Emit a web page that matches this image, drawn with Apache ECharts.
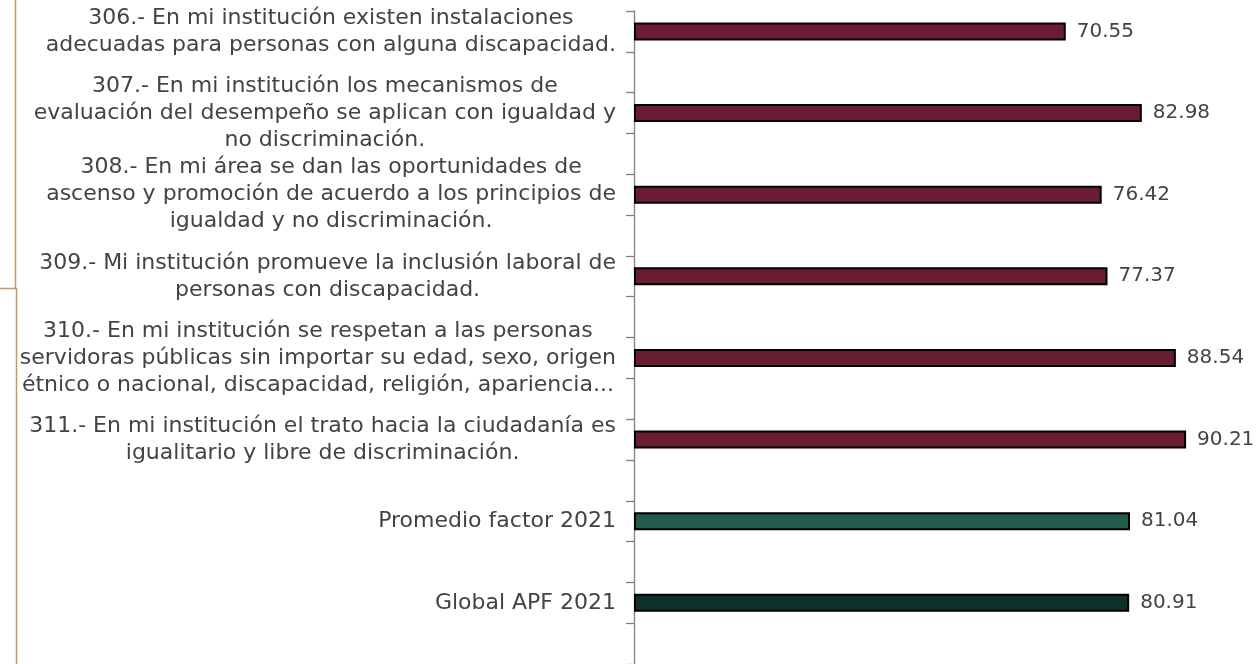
<!DOCTYPE html>
<html>
<head>
<meta charset="utf-8">
<script src="https://cdn.jsdelivr.net/npm/echarts@6/dist/echarts.min.js"></script>
<style>
html,body{margin:0;padding:0;background:#fff;}
#chart{width:1259px;height:664px;}
</style>
</head>
<body>
<div id="chart"></div>
<script>
const categories = [
  "306.- En mi institución existen instalaciones\nadecuadas para personas con alguna discapacidad.",
  "307.- En mi institución los mecanismos de\nevaluación del desempeño se aplican con igualdad y\nno discriminación.",
  "308.- En mi área se dan las oportunidades de\nascenso y promoción de acuerdo a los principios de\nigualdad y no discriminación.",
  "309.- Mi institución promueve la inclusión laboral de\npersonas con discapacidad.",
  "310.- En mi institución se respetan a las personas\nservidoras públicas sin importar su edad, sexo, origen\nétnico o nacional, discapacidad, religión, apariencia...",
  "311.- En mi institución el trato hacia la ciudadanía es\nigualitario y libre de discriminación.",
  "Promedio factor 2021",
  "Global APF 2021"
];
const values = [70.55, 82.98, 76.42, 77.37, 88.54, 90.21, 81.04, 80.91];

const barColors = ['#691C32','#691C32','#691C32','#691C32','#691C32','#691C32','#235B4E','#10312B'];
const FONT = 'DejaVu Sans';

// each category is followed by an empty slot (as in the original chart)
const slotLabels = [];
const slotData = [];
categories.forEach((c, i) => {
  slotLabels.push(c);
  slotData.push({ value: values[i], itemStyle: { color: barColors[i] } });
  slotLabels.push('');
  slotData.push(null);
});

const chart = echarts.init(document.getElementById('chart'), null, { renderer: 'canvas' });
chart.setOption({
  animation: false,
  backgroundColor: '#ffffff',
  grid: { left: 634, right: 13, top: 11, bottom: 0, containLabel: false },
  xAxis: { type: 'value', min: 0, max: 100, show: false },
  yAxis: {
    type: 'category',
    inverse: true,
    data: slotLabels,
    axisLine: { show: true, lineStyle: { color: '#808080', width: 1.3 } },
    axisTick: { show: true, length: 8, interval: 0, lineStyle: { color: '#808080', width: 1.3 } },
    axisLabel: {
      interval: 0,
      margin: 18,
      align: 'right',
      formatter: function (v) {
        if (!v) return '';
        return v.split('\n').map(l => '{c|' + l + '}').join('\n');
      },
      rich: {
        c: { align: 'center', fontFamily: FONT, fontSize: 22, lineHeight: 27, color: '#434343' }
      }
    },
    splitLine: { show: false }
  },
  series: [{
    type: 'bar',
    data: slotData,
    barWidth: 18,
    itemStyle: { borderColor: '#000000', borderWidth: 2 },
    label: {
      show: true,
      position: 'right',
      distance: 11,
      fontFamily: FONT,
      fontSize: 20,
      color: '#434343',
      formatter: p => Number(p.value).toFixed(2)
    }
  }],
  graphic: [
    { type: 'line', shape: { x1: 15.5, y1: 0, x2: 15.5, y2: 289 }, style: { stroke: '#C49A5C', lineWidth: 1.5 } },
    { type: 'line', shape: { x1: 0, y1: 288.5, x2: 16, y2: 288.5 }, style: { stroke: '#C49A5C', lineWidth: 1.5 } },
    { type: 'line', shape: { x1: 16.5, y1: 288, x2: 16.5, y2: 664 }, style: { stroke: '#C49A5C', lineWidth: 1.5 } }
  ]
});
</script>
</body>
</html>
